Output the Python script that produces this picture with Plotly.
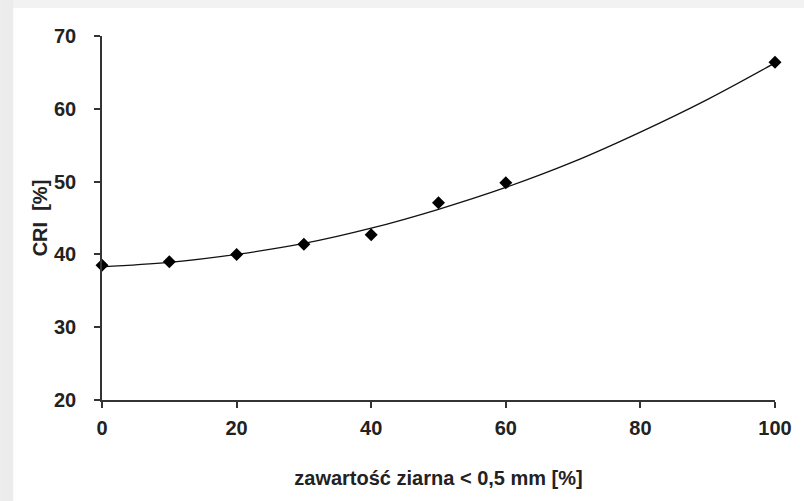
import plotly.graph_objects as go

# measured points
x_pts = [0, 10, 20, 30, 40, 50, 60, 100]
y_pts = [38.5, 39.0, 40.0, 41.4, 42.7, 47.1, 49.85, 66.4]

# trend line
x_trend = [0, 10, 20, 30, 40, 50, 60, 70, 80, 90, 100]
y_trend = [38.3, 38.9, 40.0, 41.5, 43.6, 46.2, 49.2, 52.7, 56.8, 61.3, 66.3]

x_ticks = [0, 20, 40, 60, 80, 100]
y_ticks = [20, 30, 40, 50, 60, 70]

W, H = 804, 501
L, R, T, B = 102, 27, 36, 101
pw, ph = W - L - R, H - T - B

def px(xpix):
    return (xpix - L) / pw

def py(ypix):
    return 1 - (ypix - T) / ph

fig = go.Figure()
fig.add_trace(go.Scatter(x=x_trend, y=y_trend, mode="lines",
                         line=dict(color="#111111", width=1.3, shape="spline"),
                         hoverinfo="skip", showlegend=False))
fig.add_trace(go.Scatter(x=x_pts, y=y_pts, mode="markers",
                         marker=dict(symbol="diamond", size=10, color="#000000"),
                         showlegend=False, cliponaxis=False))

font = dict(family="Liberation Sans, Arial, sans-serif", size=20, color="#222222")

fig.update_layout(
    width=W, height=H,
    margin=dict(l=L, r=R, t=T, b=B),
    paper_bgcolor="#f2f2f2",
    plot_bgcolor="white",
    font=font,
    shapes=[
        dict(type="rect", xref="paper", yref="paper", layer="below",
             x0=px(0), x1=px(13), y0=py(W), y1=py(0),
             fillcolor="#ececec", line=dict(width=0)),
        dict(type="rect", xref="paper", yref="paper", layer="below",
             x0=px(13), x1=px(W + 5), y0=py(H + 5), y1=py(8),
             fillcolor="white", line=dict(width=0)),
    ],
)

fig.update_xaxes(range=[0, 100], tickvals=x_ticks, ticktext=[f"<b>{v}</b>" for v in x_ticks],
                 showgrid=False, zeroline=False,
                 showline=True, linecolor="#333333", linewidth=1.5,
                 ticks="outside", ticklen=6, tickwidth=1.5, tickcolor="#333333",
                 ticklabelstandoff=3,
                 title=dict(text="<b>zawartość ziarna < 0,5 mm [%]</b>", standoff=33,
                            font=font))
fig.update_yaxes(range=[20, 70], tickvals=y_ticks, ticktext=[f"<b>{v}</b>" for v in y_ticks],
                 showgrid=False, zeroline=False,
                 showline=True, linecolor="#333333", linewidth=1.5,
                 ticks="outside", ticklen=6, tickwidth=1.5, tickcolor="#333333",
                 ticklabelstandoff=14,
                 title=dict(text="<b>CRI  [%]</b>", standoff=1, font=font))

fig.write_html("out.html")
